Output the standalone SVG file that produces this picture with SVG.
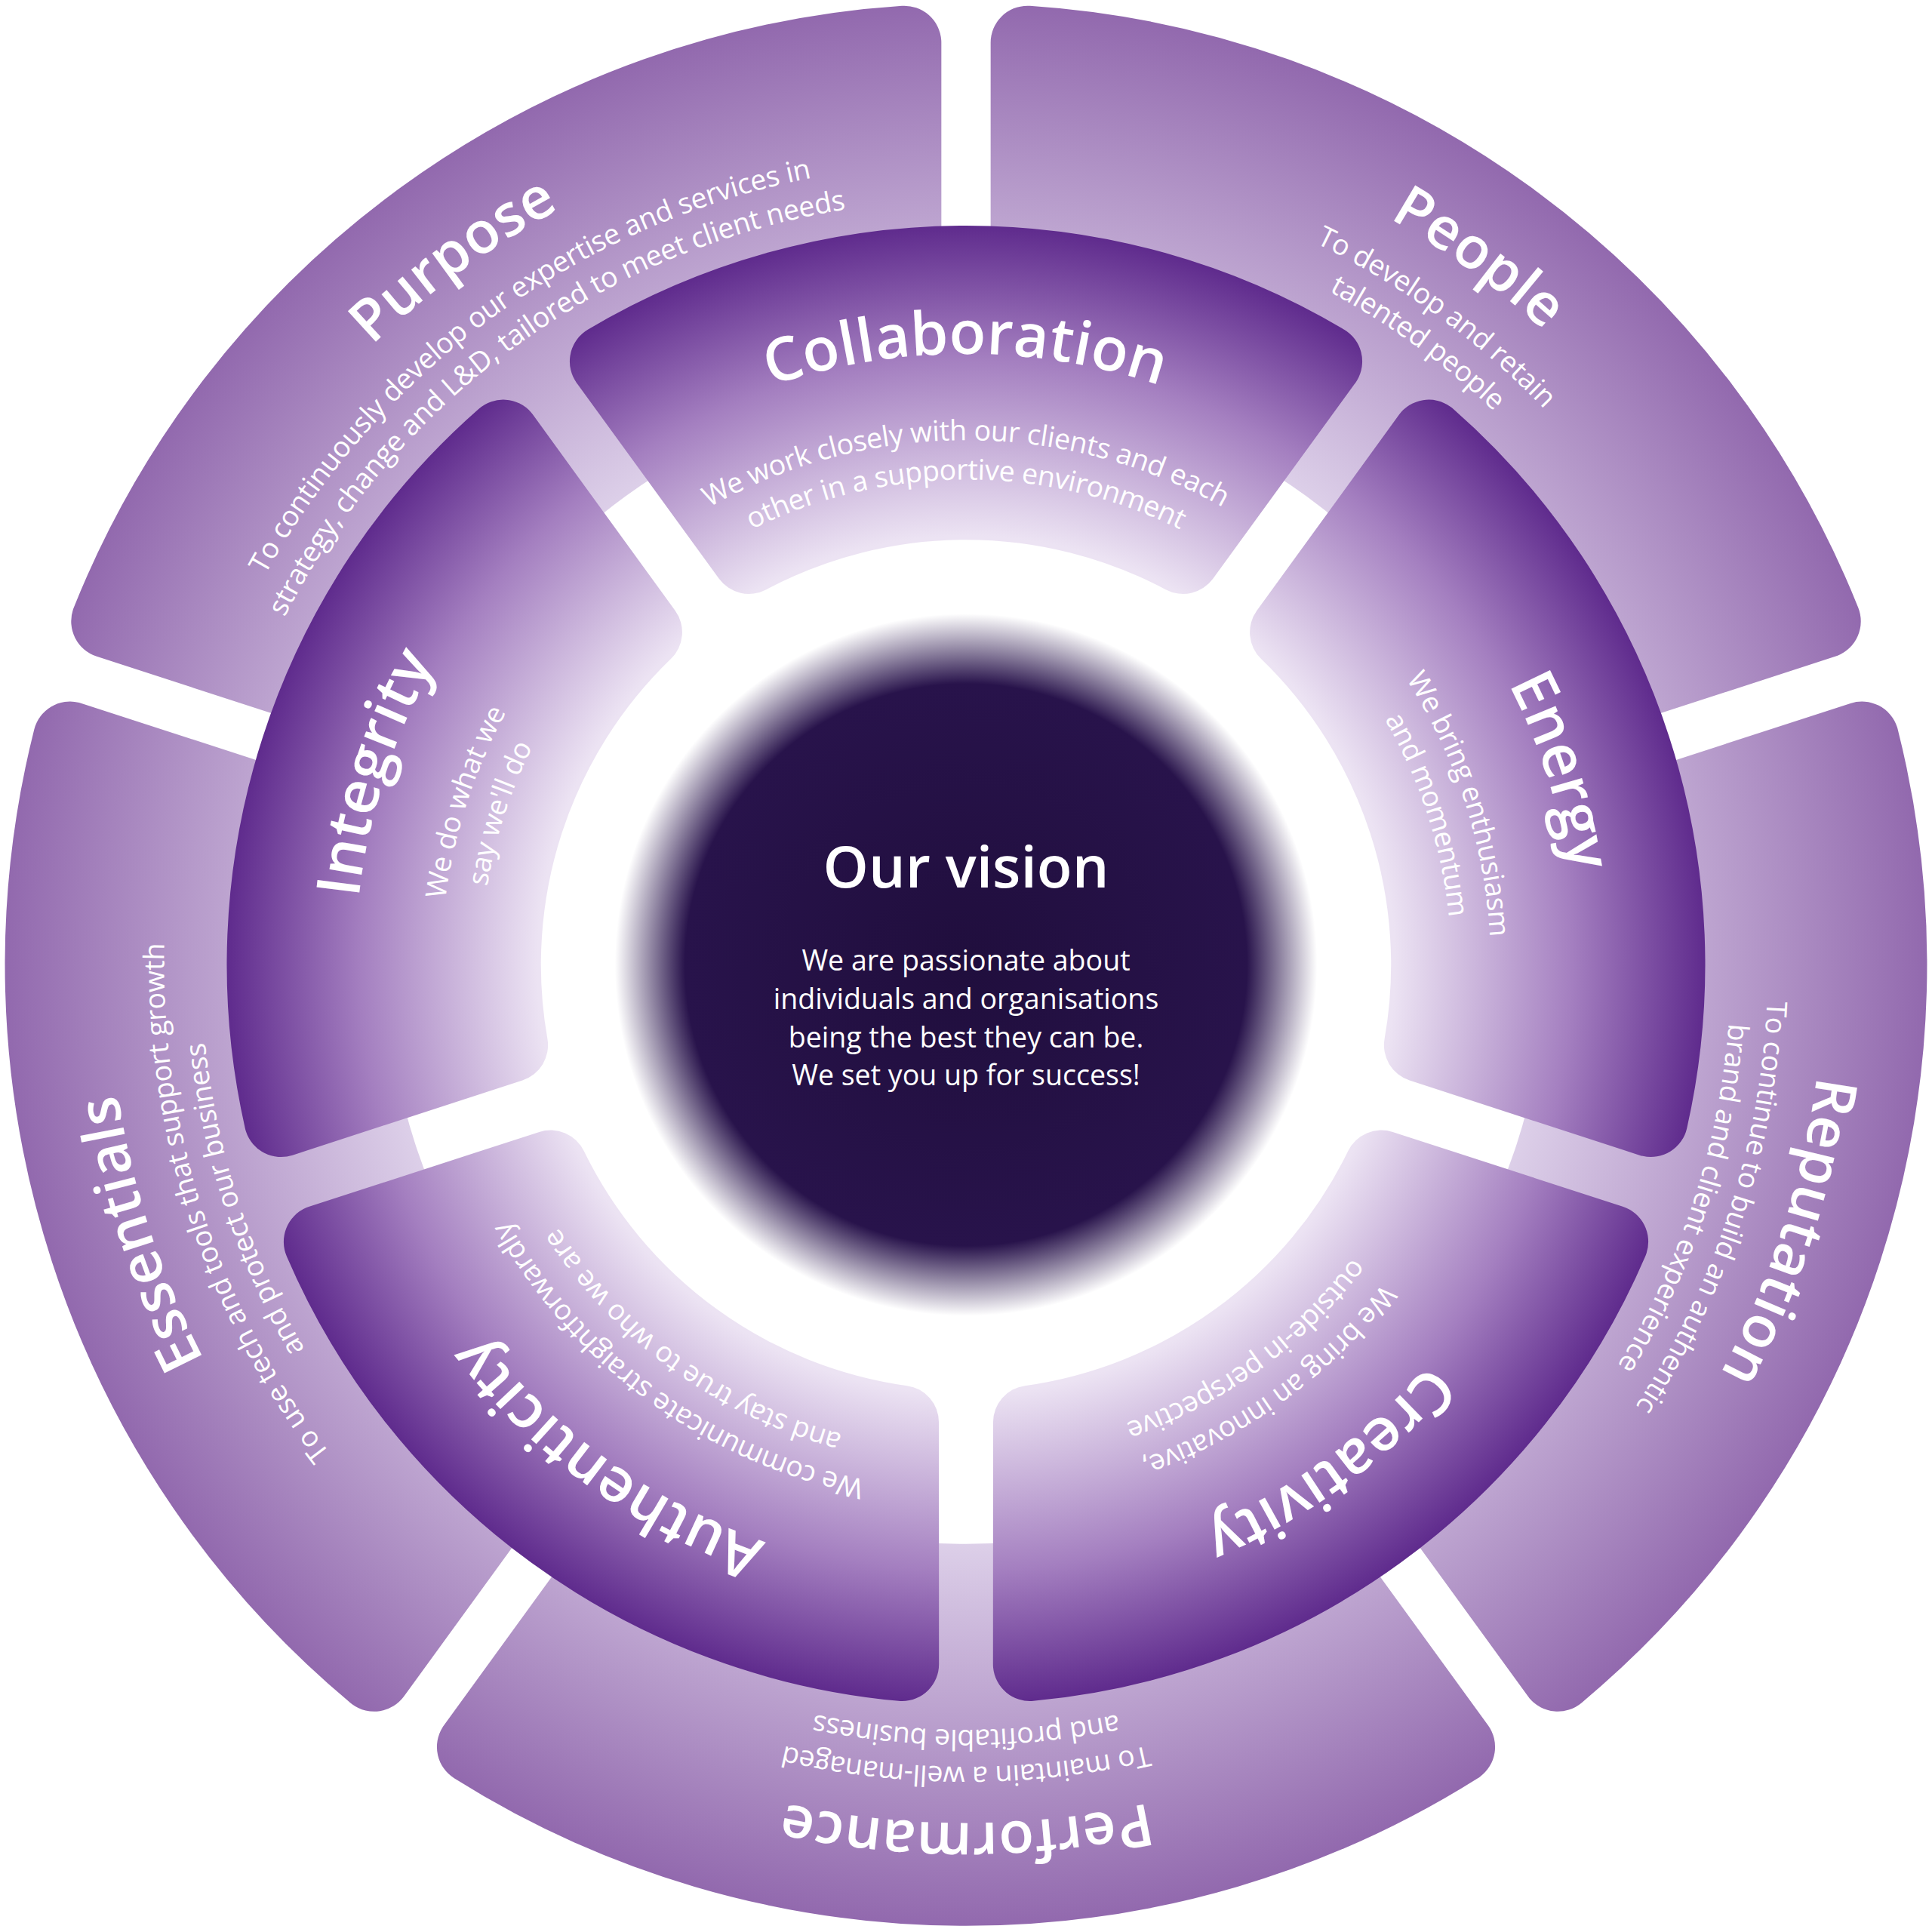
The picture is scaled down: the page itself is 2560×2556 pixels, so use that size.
<svg xmlns="http://www.w3.org/2000/svg" xmlns:xlink="http://www.w3.org/1999/xlink" width="2560" height="2556" viewBox="0 0 2560 2556">
<style>
.o{fill:url(#go);stroke:url(#go);stroke-width:60;stroke-linejoin:round}
.i{fill:url(#gi);stroke:url(#gi);stroke-width:60;stroke-linejoin:round}
text{font-family:"Open Sans","Noto Sans",sans-serif;fill:#fff;dominant-baseline:central;text-anchor:middle}
.t{font-size:47px;font-weight:600;letter-spacing:1px}
.ti{font-size:49px;font-weight:600;letter-spacing:1px}
.d{font-size:23px}
</style>
<defs>
<radialGradient id="go" gradientUnits="userSpaceOnUse" cx="0" cy="0" r="780">
<stop offset="0.6" stop-color="#ddd0e9"/><stop offset="1" stop-color="#9269ae"/>
</radialGradient>
<radialGradient id="gi" gradientUnits="userSpaceOnUse" cx="0" cy="0" r="600">
<stop offset="0.58" stop-color="#ece3f3"/><stop offset="0.82" stop-color="#a47fc0"/><stop offset="1" stop-color="#5f2b8d"/>
</radialGradient>
<radialGradient id="gc" cx="0.5" cy="0.5" r="0.5">
<stop offset="0" stop-color="#200e3d"/><stop offset="0.8" stop-color="#28134b"/><stop offset="1" stop-color="#28134b" stop-opacity="0"/>
</radialGradient>
<path id="a708" d="M-619.1 -357.5 A715 715 0 0 1 619.1 -357.5"/>
<path id="a660" d="M-571.6 -330 A660 660 0 0 1 571.6 -330"/>
<path id="a628" d="M-545.6 -315 A630 630 0 0 1 545.6 -315"/>
<path id="a520" d="M-445.9 -257.5 A515 515 0 0 1 445.9 -257.5"/>
<path id="a432" d="M-376.7 -217.5 A435 435 0 0 1 376.7 -217.5"/>
<path id="a400" d="M-349 -201.5 A403 403 0 0 1 349 -201.5"/>
<path id="so" d="M-399.4 -634.8 A750 750 0 0 1 399.4 -634.8 L252 -431.9 A500 500 0 0 0 -252 -431.9 Z"/>
<path id="si" d="M-291.6 -489.7 A570 570 0 0 1 291.6 -489.7 L176.2 -331 A375 375 0 0 0 -176.2 -331 Z"/>
</defs>
<rect width="2560" height="2556" fill="#fff"/>
<g transform="scale(1.63265)">
<g id="people" transform="translate(784 783) rotate(36)">
<use href="#so" class="o"/>
<text class="t"><textPath href="#a708" startOffset="50%">People</textPath></text>
<text class="d"><textPath href="#a660" startOffset="50%">To develop and retain</textPath></text>
<text class="d"><textPath href="#a628" startOffset="50%">talented people</textPath></text>
</g>
<g id="reputation" transform="translate(784 783) rotate(108)">
<use href="#so" class="o"/>
<text class="t"><textPath href="#a708" startOffset="50%">Reputation</textPath></text>
<text class="d"><textPath href="#a660" startOffset="50%">To continue to build an authentic</textPath></text>
<text class="d"><textPath href="#a628" startOffset="50%">brand and client experience</textPath></text>
</g>
<g id="performance" transform="translate(784 783) rotate(180)">
<use href="#so" class="o"/>
<text class="t"><textPath href="#a708" startOffset="50%">Performance</textPath></text>
<text class="d"><textPath href="#a660" startOffset="50%">To maintain a well-managed</textPath></text>
<text class="d"><textPath href="#a628" startOffset="50%">and profitable business</textPath></text>
</g>
<g id="essentials" transform="translate(784 783) rotate(252)">
<use href="#so" class="o"/>
<text class="t"><textPath href="#a708" startOffset="50%">Essentials</textPath></text>
<text class="d"><textPath href="#a660" startOffset="50%">To use tech and tools that support growth</textPath></text>
<text class="d"><textPath href="#a628" startOffset="50%">and protect our business</textPath></text>
</g>
<g id="purpose" transform="translate(784 783) rotate(-36)">
<use href="#so" class="o"/>
<text class="t"><textPath href="#a708" startOffset="50%">Purpose</textPath></text>
<text class="d"><textPath href="#a660" startOffset="50%">To continuously develop our expertise and services in</textPath></text>
<text class="d"><textPath href="#a628" startOffset="50%">strategy, change and L&amp;D, tailored to meet client needs</textPath></text>
</g>
<g id="collaboration" transform="translate(784 783)">
<use href="#si" class="i"/>
<text class="ti"><textPath href="#a520" startOffset="50%">Collaboration</textPath></text>
<text class="d"><textPath href="#a432" startOffset="50%">We work closely with our clients and each</textPath></text>
<text class="d"><textPath href="#a400" startOffset="50%">other in a supportive environment</textPath></text>
</g>
<g id="energy" transform="translate(784 783) rotate(72)">
<use href="#si" class="i"/>
<text class="ti"><textPath href="#a520" startOffset="50%">Energy</textPath></text>
<text class="d"><textPath href="#a432" startOffset="50%">We bring enthusiasm</textPath></text>
<text class="d"><textPath href="#a400" startOffset="50%">and momentum</textPath></text>
</g>
<g id="creativity" transform="translate(784 783) rotate(144)">
<use href="#si" class="i"/>
<text class="ti"><textPath href="#a520" startOffset="50%">Creativity</textPath></text>
<text class="d"><textPath href="#a432" startOffset="50%">We bring an innovative,</textPath></text>
<text class="d"><textPath href="#a400" startOffset="50%">outside-in perspective</textPath></text>
</g>
<g id="authenticity" transform="translate(784 783) rotate(216)">
<use href="#si" class="i"/>
<text class="ti"><textPath href="#a520" startOffset="50%">Authenticity</textPath></text>
<text class="d"><textPath href="#a432" startOffset="50%">We communicate straightforwardly</textPath></text>
<text class="d"><textPath href="#a400" startOffset="50%">and stay true to who we are</textPath></text>
</g>
<g id="integrity" transform="translate(784 783) rotate(288)">
<use href="#si" class="i"/>
<text class="ti"><textPath href="#a520" startOffset="50%">Integrity</textPath></text>
<text class="d"><textPath href="#a432" startOffset="50%">We do what we</textPath></text>
<text class="d"><textPath href="#a400" startOffset="50%">say we'll do</textPath></text>
</g>
<g id="vision">
<circle cx="784" cy="783" r="285" fill="url(#gc)"/>
<text x="784" y="702" style="font-size:47px;font-weight:600">Our vision</text>
<text x="784" y="779" class="d">We are passionate about</text>
<text x="784" y="810" class="d">individuals and organisations</text>
<text x="784" y="841" class="d">being the best they can be.</text>
<text x="784" y="872" class="d">We set you up for success!</text>
</g>
<g id="connectors"/>
</g>
</svg>
